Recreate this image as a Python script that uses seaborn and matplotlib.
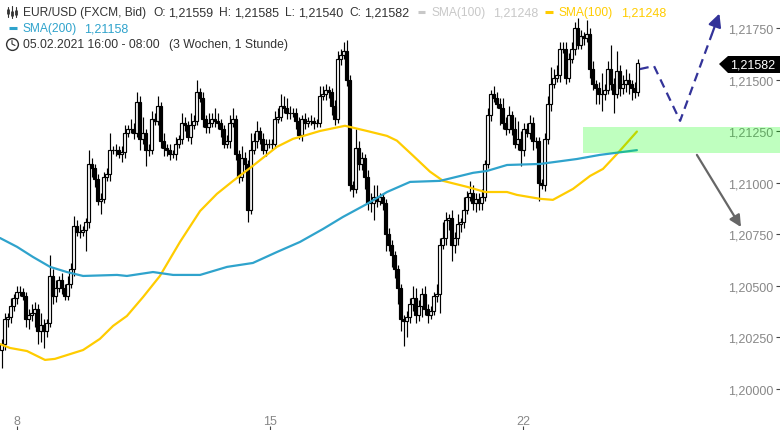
import numpy as np
import pandas as pd
import matplotlib
matplotlib.use("Agg")
import matplotlib.pyplot as plt
import seaborn as sns
from matplotlib.patches import Polygon

# Prices are given in pips above 1.2000
close_pips = [22,34,35,40,44,47,47,45,34,36,
 37,39,28,31,28,32,55,45,49,53,
 49,45,51,58,79,76,76,77,81,109,
 107,102,91,92,103,104,116,116,116,114,
 115,124,126,126,124,139,121,124,116,116,
 131,130,137,120,117,116,114,114,119,121,
 129,128,122,128,130,144,141,131,127,129,
 131,130,129,126,119,120,129,131,114,103,
 112,109,87,116,120,125,121,116,119,119,
 119,131,132,137,136,134,134,134,130,123,
 131,129,130,130,129,129,142,143,145,144,
 137,131,160,162,164,150,99,97,117,109,
 112,103,90,90,93,91,93,90,75,70,
 65,58,49,34,33,35,41,44,36,40,
 46,39,36,38,45,46,70,73,82,83,
 70,73,80,81,87,93,95,90,92,90,
 93,109,133,143,141,138,136,129,126,133,
 126,119,121,116,126,124,129,120,120,100,
 99,121,138,148,151,152,165,165,151,160,
 165,175,167,171,170,172,155,148,146,143,
 143,145,155,148,143,154,146,148,150,148,
 146,144,158]
wick_up = [2,3,2,4,2,3,3,2,2,3,
 4,3,2,6,3,2,10,3,4,2,
 3,2,4,3,5,3,4,2,2,7,
 3,2,2,3,2,3,8,2,3,2,
 3,4,2,5,3,5,3,8,2,3,
 4,3,5,2,4,2,3,2,3,2,
 5,3,2,6,3,6,2,3,2,5,
 3,5,4,2,2,3,4,5,2,2,
 6,3,2,8,4,5,2,3,2,2,
 2,4,4,6,5,5,3,2,2,2,
 2,3,2,3,2,2,5,4,3,2,
 2,3,4,3,4,5,2,2,9,3,
 3,2,3,5,6,6,2,2,2,3,
 2,2,2,2,2,3,3,6,5,3,
 3,4,2,2,2,5,3,8,4,2,
 4,3,5,2,6,3,6,4,3,3,
 4,2,3,2,4,3,3,5,3,4,
 2,6,9,4,3,3,4,3,2,2,
 2,3,4,8,4,5,3,3,3,3,
 3,3,5,3,2,7,3,4,2,3,
 10,3,4,12,3,10,3,4,5,3,
 2,3,2]
wick_down = [9,3,4,3,2,3,2,2,4,5,
 3,7,6,5,8,3,2,4,3,2,
 3,2,2,2,3,2,3,2,10,3,
 4,4,2,6,2,2,3,2,3,2,
 4,3,2,2,3,2,5,2,8,3,
 2,2,2,3,4,3,3,2,3,2,
 2,3,2,3,2,2,2,4,3,3,
 2,3,3,4,2,2,3,2,3,3,
 2,3,6,2,2,3,2,2,3,2,
 3,2,2,2,2,3,3,2,4,2,
 3,3,2,2,3,2,2,2,3,3,
 4,3,2,3,2,3,3,4,2,3,
 3,6,3,4,8,3,2,3,8,3,
 6,4,8,6,12,8,3,3,4,3,
 5,3,4,2,2,3,9,2,3,5,
 8,4,3,4,3,2,2,3,4,3,
 3,2,2,3,2,2,8,3,3,2,
 3,2,3,8,3,2,3,4,3,9,
 2,3,2,3,2,2,3,2,3,2,
 2,3,2,2,3,2,4,3,8,5,
 8,3,2,3,9,2,4,3,4,5,
 6,3,2]

sma200_bar = [0,5.7,11,16.7,22.3,27.7,39,42.3,51,57.7,66.7,75.7,84.3,92.3,100,107.7,114.3,
              122.3,129,136.7,146.7,157.7,162.3,169,180,192.3,200,212.3]
sma200_pips = [73.2,68.9,64,59.2,56.7,54.8,55.3,54.8,56.7,55.3,55.3,59.2,61.1,66.4,71.3,77.6,83.4,
               89.7,95.5,100.4,100.9,104.8,105.7,108.6,109.1,111.5,113.5,115.8]
sma100_bar = [0,3.3,9,15,18.3,27.7,33.3,37.7,42.3,47.7,53.3,60,66.7,72.3,77.7,84.3,92.3,97.7,100,
              106.7,115,122.3,129,132.3,137.7,143.3,147.7,155.7,161.7,169,172.3,180,184.3,191,
              196.7,201,205.7,212.3]
sma100_pips = [21.8,19.9,18.4,14.1,14.6,18.9,24.3,30.6,35.4,44.6,54.8,71.3,86.3,94.6,100.9,108.2,
               117.4,121.3,122.2,125.1,127.6,125.1,122.7,120.4,113.1,105.4,100.9,98,95.5,95.5,
               94.1,92.2,91.7,97,103.3,106.7,114,124.8]
path_up_bar = [213.3,218,226.7,237.3]
path_up_pips = [155.1,156.6,130,172]
arrow_up_tip = (239.8,182)
arrow_down_from = (232.3,113.5)
arrow_down_to = (247,78.5)
zone_pips = (114.6,127.2)
zone_start_bar = 194.3
y_ticks = [1.2,1.2025,1.205,1.2075,1.21,1.2125,1.215,1.2175]
x_ticks = [5.5,90,174.3]
x_labels = ["8","15","22"]
last_price = "1,21582"

def price(p):
    return 1.2 + np.asarray(p, float)/1e4

sns.set_theme(style="white")
plt.rcParams["font.family"] = ["Liberation Sans", "DejaVu Sans"]
plt.rcParams["font.size"] = 8.64

fig = plt.figure(figsize=(7.8,4.31), dpi=100)
ax = fig.add_axes([0,0,1,1])
ax.set_xlim(0,260)
ax.set_ylim(1.198012,1.218907)

df = pd.DataFrame({"close":price(close_pips)})
df["bar"] = np.arange(len(df))+0.5
df["open"] = df["close"].shift(1).fillna(df["close"].iloc[0]-0.0003)
df["top"] = df[["open","close"]].max(axis=1)
df["bot"] = df[["open","close"]].min(axis=1)
df["high"] = df["top"]+np.array(wick_up)/1e4
df["low"] = df["bot"]-np.array(wick_down)/1e4

ax.vlines(df["bar"],df["low"],df["high"],color="black",lw=0.85,zorder=2)
up = df["close"]>=df["open"]
ax.bar(df["bar"][up],(df["top"]-df["bot"])[up],bottom=df["bot"][up],width=0.7,
       facecolor="white",edgecolor="black",linewidth=0.85,zorder=3)
ax.bar(df["bar"][~up],(df["top"]-df["bot"])[~up],bottom=df["bot"][~up],width=0.7,
       facecolor="black",edgecolor="black",linewidth=0.85,zorder=3)

sns.lineplot(x=sma100_bar,y=price(sma100_pips),color="#ffcc00",lw=1.6,ax=ax,zorder=4,sort=False)
sns.lineplot(x=sma200_bar,y=price(sma200_pips),color="#2fa3cc",lw=1.6,ax=ax,zorder=4,sort=False)

# green zone
ax.fill_between([zone_start_bar,260],price(zone_pips[0]),price(zone_pips[1]),
                color="#00ff00",alpha=0.25,lw=0,zorder=5)

# scenario arrows
ax.plot(path_up_bar,price(path_up_pips),color="#333399",lw=1.6,ls=(0,(4,2.6)),zorder=6)
ax.annotate("",xy=(arrow_up_tip[0],price(arrow_up_tip[1])),
            xytext=(path_up_bar[-1],price(path_up_pips[-1])),
            arrowprops=dict(arrowstyle="-|>,head_length=0.9,head_width=0.45",color="#333399",lw=1.6,
                            shrinkA=0,shrinkB=0),zorder=6)
ax.annotate("",xy=(arrow_down_to[0],price(arrow_down_to[1])),
            xytext=(arrow_down_from[0],price(arrow_down_from[1])),
            arrowprops=dict(arrowstyle="-|>,head_length=0.8,head_width=0.4",color="#666666",lw=1.6,
                            shrinkA=0,shrinkB=0),zorder=6)

# axes
for s in ax.spines.values():
    s.set_visible(False)
ax.yaxis.tick_right()
ax.set_yticks(y_ticks)
ax.set_yticklabels([f"{v:.5f}".replace(".",",") for v in y_ticks],ha="right",color="#888888",fontsize=9)
ax.tick_params(axis="y",direction="in",length=3,width=0.8,color="#444444",pad=-5,right=True)
ax.set_xticks(x_ticks)
ax.set_xticklabels(x_labels,va="bottom",color="#888888",fontsize=9)
ax.tick_params(axis="x",direction="in",length=3,width=0.8,color="#444444",pad=-2,bottom=True)

def P(x,y):
    return (x/780,1-y/431)
T = ax.transAxes

# price tag
ax.add_patch(Polygon([P(719,65),P(728,57),P(780,57),P(780,74),P(728,74)],closed=True,
                     transform=T,facecolor="black",edgecolor="none",zorder=8))
ax.text(*P(775,65.5),last_price,transform=T,color="white",ha="right",va="center",fontsize=9,zorder=9)

# header
def label(x,y,s,c="#333333",fs=8.64):
    ax.text(*P(x,y),s,transform=T,color=c,ha="left",va="center",fontsize=fs,zorder=9)
def dash(x0,x1,y,c):
    ax.plot([x0/780,x1/780],[1-y/431]*2,transform=T,color=c,lw=2.2,solid_capstyle="butt",zorder=9)

label(23,13,"EUR/USD (FXCM, Bid)")
for x,s in [(153,"O:"),(219,"H:"),(285,"L:"),(349,"C:")]:
    label(x,13,s)
for x,s in [(168,"1,21559"),(234,"1,21585"),(298,"1,21540"),(364,"1,21582")]:
    label(x,13,s,fs=9)
dash(418,425,13,"#c8c8c8")
label(432,13,"SMA(100)","#c8c8c8"); label(493,13,"1,21248","#c8c8c8",9)
dash(545,553,13,"#ffcc00")
label(559,13,"SMA(100)","#ffcc00"); label(621,13,"1,21248","#ffcc00",9)
dash(9,17,29,"#2fa3cc")
label(23,29,"SMA(200)","#2fa3cc"); label(84,29,"1,21158","#2fa3cc",9)
label(23,45,"05.02.2021 16:00 - 08:00",fs=8.8)
label(169,45,"(3 Wochen, 1 Stunde)",fs=8.8)

# icons
for x,y0,y1,b0,b1 in [(8,8,18,10,15),(12,7,19,12,17),(16,8,18,11,16)]:
    ax.plot([x/780]*2,[1-y0/431,1-y1/431],transform=T,color="#333333",lw=0.8,zorder=9)
    ax.plot([x/780]*2,[1-b0/431,1-b1/431],transform=T,color="#333333",lw=2,solid_capstyle="butt",zorder=9)
ax.plot([12/780],[1-45/431],transform=T,marker="o",ms=8.5,mfc="none",mec="#333333",mew=1,zorder=9)
ax.plot([12/780,12/780,15/780],[1-41.5/431,1-45/431,1-46.5/431],transform=T,color="#333333",lw=0.8,zorder=9)

ax.set_xlim(0,260)
ax.set_ylim(1.198012,1.218907)
ax.set_xlabel(""); ax.set_ylabel("")
if ax.get_legend():
    ax.get_legend().remove()
fig.savefig("out.png",dpi=100)
